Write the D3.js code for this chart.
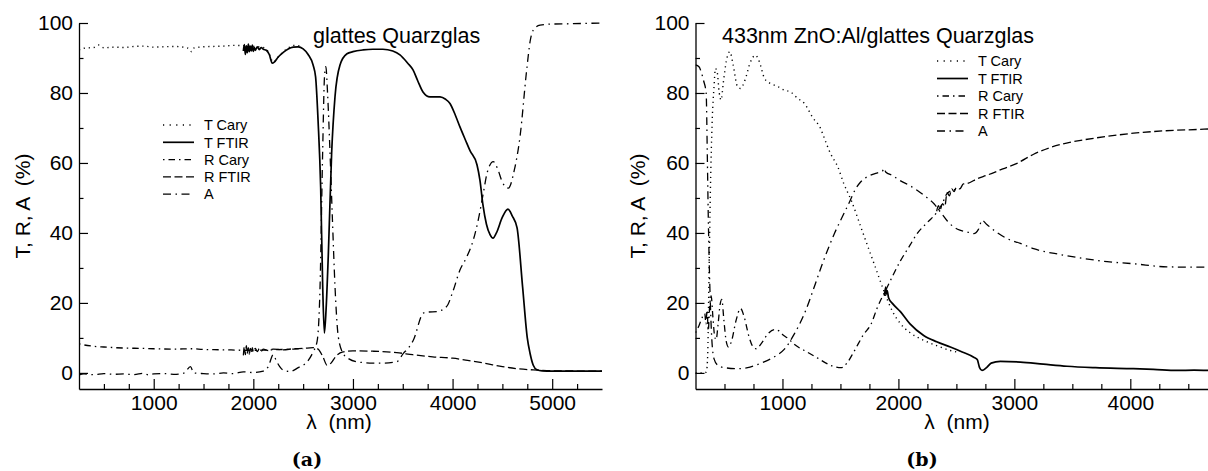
<!DOCTYPE html>
<html>
<head>
<meta charset="utf-8">
<script src="https://cdn.jsdelivr.net/npm/d3@7"></script>
<style>
body { margin: 0; background: #fff; }
svg text { font-family: "Liberation Sans", Arial, Helvetica, sans-serif; }
</style>
</head>
<body>
<script>
// ---- data: [wavelength nm, percent] ----
var seriesNames = ["T Cary", "T FTIR", "R Cary", "R FTIR", "A"];

var yMajor = [0, 20, 40, 60, 80, 100];
var yMinor = [10, 30, 50, 70, 90];

// (a) glattes Quarzglas
var aTitle = "glattes Quarzglas";
var aXMajor = [1000, 2000, 3000, 4000, 5000];
var aXMinor = [500, 750, 1250, 1500, 1750, 2250, 2500, 2750, 3250, 3500, 3750, 4250, 4500, 4750, 5250];

var aTCary = [[250, 92.3], [300, 92.8], [400, 93.0], [450, 93.7], [500, 92.9], [600, 93.1], [700, 93.0], [800, 93.3],
  [900, 93.4], [1000, 93.1], [1100, 93.2], [1200, 93.3], [1300, 93.1], [1360, 92.6], [1380, 91.8], [1400, 92.8],
  [1500, 93.2], [1600, 93.3], [1700, 93.4], [1800, 93.6], [1900, 93.5], [2000, 93.3], [2100, 93.0], [2150, 91.8],
  [2200, 88.8], [2250, 90.3], [2300, 91.8], [2350, 92.8], [2400, 93.6], [2450, 93.5], [2500, 93.2]];

var aTFTIR = [[1900, 92.0], [1910, 93.8], [1920, 91.0], [1930, 93.5], [1940, 91.5], [1950, 94.0], [1960, 91.8],
  [1970, 93.4], [1980, 92.0], [1990, 93.7], [2000, 91.9], [2010, 93.0], [2020, 92.2], [2040, 93.2], [2060, 92.4],
  [2080, 93.0], [2100, 92.5], [2130, 92.2], [2160, 91.0], [2190, 88.5], [2210, 88.8], [2250, 90.3], [2300, 91.6],
  [2350, 92.6], [2400, 93.1], [2450, 93.2], [2500, 92.6], [2550, 91.0], [2600, 88.0], [2625, 84.6], [2650, 72],
  [2676, 53], [2696, 25], [2713, 11.4], [2730, 18], [2753, 34], [2786, 62.8], [2820, 79], [2870, 88], [2940, 91.2],
  [3000, 91.8], [3100, 92.3], [3200, 92.5], [3300, 92.5], [3400, 92.0], [3472, 90.9], [3550, 88.5], [3603, 86.6],
  [3650, 83.5], [3703, 80.3], [3773, 78.9], [3874, 78.9], [3930, 78.2], [3974, 77], [4030, 73.5], [4074, 70.3],
  [4130, 66.5], [4175, 63.5], [4245, 59.5], [4275, 55], [4305, 48], [4340, 42.5], [4376, 39.5], [4406, 38.5],
  [4440, 40], [4500, 44.5], [4556, 46.8], [4600, 44.8], [4647, 41.5], [4703, 24.6], [4750, 10], [4777, 5.7],
  [4810, 2.2], [4847, 0.9], [4900, 0.6], [5000, 0.5], [5200, 0.5], [5500, 0.5]];

var aRCary = [[250, 8.3], [300, 8.0], [400, 7.6], [500, 7.4], [700, 7.1], [900, 7.0], [1000, 6.9], [1200, 6.8],
  [1380, 6.9], [1500, 6.7], [1700, 6.6], [1850, 6.5], [1950, 6.4], [2100, 6.5], [2200, 6.6], [2400, 6.8], [2500, 6.9]];

var aRFTIR = [[1900, 5.0], [1910, 7.5], [1920, 5.2], [1930, 7.8], [1940, 5.5], [1950, 7.2], [1960, 5.4], [1970, 7.0],
  [1980, 5.8], [1990, 7.2], [2000, 6.0], [2020, 7.0], [2040, 6.1], [2060, 6.9], [2080, 6.2], [2100, 6.8], [2150, 6.4],
  [2200, 6.8], [2300, 6.6], [2400, 6.9], [2500, 7.0], [2600, 7.2], [2650, 6.8], [2700, 4.5], [2740, 2.2], [2780, 2.8],
  [2830, 4.8], [2900, 6.0], [3000, 6.3], [3200, 6.2], [3440, 5.8], [3600, 5.2], [3800, 4.6], [4000, 4.2], [4150, 3.6],
  [4300, 2.9], [4500, 1.8], [4650, 1.2], [4850, 0.8], [5000, 0.6], [5500, 0.5]];

var aA = [[250, -0.6], [300, -0.3], [400, -0.5], [500, -0.2], [600, -0.4], [700, -0.3], [800, -0.5], [900, -0.1],
  [950, -0.6], [1000, -0.3], [1100, -0.2], [1200, -0.4], [1300, -0.1], [1370, 1.8], [1400, 0], [1500, -0.2],
  [1600, -0.3], [1700, 0], [1800, -0.2], [1900, 0.3], [2000, 0.1], [2100, 0.5], [2150, 1.8], [2200, 5.2],
  [2230, 3.5], [2265, 1.8], [2300, 0.8], [2368, 0.4], [2450, 1.5], [2550, 3.5], [2600, 6], [2640, 9], [2670, 25],
  [2695, 62], [2715, 85], [2728, 87.5], [2745, 80], [2770, 62.8], [2795, 43], [2820, 24.6], [2853, 10.3], [2903, 5.5],
  [2960, 4], [3037, 3.2], [3200, 2.8], [3305, 2.8], [3440, 3.2], [3506, 5.6], [3560, 7.2], [3607, 9.4], [3707, 17.1],
  [3760, 17.4], [3840, 17.5], [3941, 19], [4000, 23], [4074, 29.4], [4140, 33], [4208, 38], [4260, 44], [4308, 51.3],
  [4350, 57.5], [4409, 60.4], [4450, 58.5], [4500, 54.5], [4560, 52.8], [4620, 58], [4677, 67.5], [4744, 86.6],
  [4780, 95], [4811, 98], [4878, 99.4], [5000, 99.7], [5200, 99.8], [5500, 100]];

// (b) 433nm ZnO:Al/glattes Quarzglas
var bTitle = "433nm ZnO:Al/glattes Quarzglas";
var bXMajor = [1000, 2000, 3000, 4000];
var bXMinor = [500, 750, 1250, 1500, 1750, 2250, 2500, 2750, 3250, 3500, 3750, 4250, 4500];

var bTCary = [[250, 0], [330, 0], [345, 0.5], [355, 5], [365, 24.5], [379, 53], [394, 72], [410, 82], [422, 87],
  [437, 86], [455, 80], [471, 78], [490, 83], [515, 89], [546, 91.8], [575, 88], [610, 82], [638, 81.3], [680, 84],
  [720, 88.5], [767, 90.8], [800, 89], [845, 84.2], [897, 82.7], [950, 82], [1017, 80.8], [1069, 80.3], [1130, 78.5],
  [1190, 77], [1260, 73], [1328, 69.9], [1362, 67], [1414, 62.7], [1477, 58.9], [1530, 54], [1592, 49.4],
  [1678, 41.5], [1730, 36.7], [1800, 30.3], [1873, 23.6], [1950, 17.5], [2017, 14.1], [2100, 11.5], [2218, 9.3],
  [2330, 7.8], [2448, 6.4], [2500, 6.0]];

var bTFTIR = [[1880, 22], [1890, 24.5], [1895, 22.5], [1903, 23.5], [1915, 21.5], [1950, 19.8], [2017, 17.5],
  [2100, 14], [2218, 10.7], [2330, 8.9], [2448, 7.4], [2550, 6], [2649, 4.5], [2680, 3.8], [2700, 1.5], [2721, 0.7],
  [2760, 1.5], [2800, 2.8], [2879, 3.3], [3052, 3.1], [3250, 2.5], [3454, 1.9], [3700, 1.5], [4026, 1.2], [4200, 1.0],
  [4403, 0.7], [4550, 0.8], [4670, 0.7]];

var bRCary = [[250, 11.5], [280, 13.5], [310, 16], [330, 17], [340, 14], [350, 18], [360, 12], [372, 19], [385, 22],
  [400, 16], [415, 10.5], [428, 9.5], [445, 14], [462, 19.5], [477, 21], [495, 15], [515, 9], [534, 7.4], [560, 9],
  [600, 15], [638, 18.4], [670, 16], [710, 10.5], [745, 7.5], [773, 6.9], [820, 8.5], [870, 11], [931, 12.4],
  [970, 12], [1000, 11], [1050, 9.8], [1100, 8.2], [1200, 6.2], [1300, 4.3], [1420, 2.1], [1506, 1.5], [1560, 3],
  [1615, 6], [1700, 11], [1765, 14], [1816, 18.5], [1903, 24.5], [2017, 32], [2100, 36.5], [2161, 39.8], [2250, 43],
  [2334, 46], [2380, 48.5], [2420, 51.3], [2500, 52.5]];

var bRFTIR = [[2330, 46.2], [2345, 47.8], [2360, 46.6], [2380, 48.4], [2400, 47.6], [2420, 51.5],
  [2440, 50.6], [2460, 52.6], [2480, 51.8], [2500, 53], [2530, 52.6], [2560, 54], [2592, 54.1], [2680, 55.5],
  [2764, 56.5], [2900, 58.3], [3023, 59.9], [3166, 62.5], [3300, 64.3], [3450, 65.7], [3597, 66.6], [3800, 67.6],
  [4028, 68.5], [4300, 69.2], [4603, 69.6], [4670, 69.7]];

var bA = [[250, 88], [280, 87.5], [299, 86], [320, 83.5], [342, 79.9], [352, 62], [360, 45], [368, 32], [378, 20],
  [390, 10], [410, 4], [442, 2.2], [500, 1.5], [614, 1.2], [700, 1.5], [759, 2.1], [830, 3], [903, 4.1], [960, 5.2],
  [1017, 6.8], [1100, 11], [1190, 17], [1284, 25.5], [1342, 31], [1400, 36], [1450, 40], [1500, 43.5], [1586, 49.4],
  [1629, 52.5], [1672, 54.5], [1759, 56.5], [1820, 57.2], [1860, 57.6], [1880, 58.5], [1890, 57.4], [1950, 56.4],
  [2023, 54.8], [2100, 53.5], [2161, 52.2], [2230, 50.5], [2305, 48.4], [2362, 46], [2420, 43.5], [2477, 41.7],
  [2530, 40.8], [2592, 40.3], [2649, 39.8], [2690, 41], [2721, 43.6], [2760, 42.5], [2822, 40.8], [2937, 38.4],
  [3052, 37], [3166, 35.5], [3400, 33.8], [3597, 32.7], [3800, 31.8], [4028, 31.2], [4316, 30.3], [4670, 30.2]];

// ---- styles ----
var lineStyles = [
  { dash: "1.2,3.8", width: 1.4 },
  { dash: null, width: 1.7 },
  { dash: "1.5,4,6.5,4", width: 1.3 },
  { dash: "8,3.5", width: 1.3 },
  { dash: "8,4.5,1.5,4.5", width: 1.3 }
];

var width = 1208, height = 471;
var plotTop = 23, plotBottom = 389;

var svg = d3.select("body").append("svg")
  .attr("width", width)
  .attr("height", height);

function drawPanel(cfg) {
  var g = svg.append("g").attr("class", "panel_" + cfg.id);

  var x = d3.scaleLinear().domain(cfg.xDomain).range([cfg.left, cfg.right]);
  var y = d3.scaleLinear().domain([-4.6, 100]).range([plotBottom, plotTop]);

  g.append("clipPath").attr("id", "clip_" + cfg.id)
    .append("rect")
    .attr("x", cfg.left).attr("y", plotTop - 2)
    .attr("width", cfg.right - cfg.left).attr("height", plotBottom - plotTop + 2);

  // y axis, ticks pointing inward
  var yAx = g.append("g")
    .attr("transform", "translate(" + cfg.left + ",0)")
    .call(d3.axisLeft(y).tickValues(yMajor).tickSize(-9).tickSizeOuter(0).tickPadding(6));
  var yAxMinor = g.append("g")
    .attr("transform", "translate(" + cfg.left + ",0)")
    .call(d3.axisLeft(y).tickValues(yMinor).tickSize(-4.5).tickFormat(""));
  yAxMinor.select(".domain").remove();

  var xAx = g.append("g")
    .attr("transform", "translate(0," + plotBottom + ")")
    .call(d3.axisBottom(x).tickValues(cfg.xMajor).tickSize(-10).tickSizeOuter(0).tickPadding(6).tickFormat(d3.format("d")));
  var xAxMinor = g.append("g")
    .attr("transform", "translate(0," + plotBottom + ")")
    .call(d3.axisBottom(x).tickValues(cfg.xMinor).tickSize(-5).tickFormat(""));
  xAxMinor.select(".domain").remove();

  [yAx, yAxMinor, xAx, xAxMinor].forEach(function(a) {
    a.attr("font-size", 21).attr("font-family", "Liberation Sans, Arial, sans-serif");
    a.selectAll("line").attr("stroke", "#000").attr("stroke-width", 1.2);
    a.selectAll(".domain").attr("stroke", "#000").attr("stroke-width", 1.3);
    a.selectAll("text").attr("fill", "#000");
  });

  // curves
  var line = d3.line()
    .x(function(d) { return x(d[0]); })
    .y(function(d) { return y(d[1]); })
    .curve(d3.curveMonotoneX);

  var curves = g.append("g").attr("clip-path", "url(#clip_" + cfg.id + ")");
  cfg.series.forEach(function(s, i) {
    curves.append("path")
      .datum(s)
      .attr("d", line)
      .attr("fill", "none")
      .attr("stroke", "#000")
      .attr("stroke-width", lineStyles[i].width)
      .attr("stroke-dasharray", lineStyles[i].dash)
      .attr("stroke-linejoin", "round");
  });

  // title
  g.append("text")
    .attr("x", cfg.titleX).attr("y", 43)
    .attr("font-size", 21.5)
    .text(cfg.title);

  // legend
  var leg = g.append("g");
  seriesNames.forEach(function(name, i) {
    var cy = cfg.legY + i * cfg.legStep;
    leg.append("line")
      .attr("x1", cfg.legX).attr("x2", cfg.legX + 31)
      .attr("y1", cy).attr("y2", cy)
      .attr("stroke", "#000")
      .attr("stroke-width", lineStyles[i].width)
      .attr("stroke-dasharray", i === 0 ? "1.2,5.4" : lineStyles[i].dash);
    leg.append("text")
      .attr("x", cfg.legX + 41).attr("y", cy + 5.2)
      .attr("font-size", 14.5)
      .text(name);
  });

  // axis titles
  g.append("text")
    .attr("transform", "translate(" + cfg.yLabelX + ",206) rotate(-90)")
    .attr("text-anchor", "middle")
    .attr("font-size", 21)
    .style("white-space", "pre")
    .text("T, R, A  (%)");

  g.append("text")
    .attr("x", cfg.xLabelX).attr("y", 429)
    .attr("text-anchor", "middle")
    .attr("font-size", 21)
    .style("white-space", "pre")
    .text("\u03bb  (nm)");

  g.append("text")
    .attr("x", cfg.panelLabelX).attr("y", 466)
    .attr("text-anchor", "middle")
    .attr("font-size", 19)
    .attr("font-weight", "bold")
    .style("font-family", "DejaVu Serif, Liberation Serif, serif")
    .text(cfg.panelLabel);
}

drawPanel({
  id: "a", left: 79, right: 602, xDomain: [250, 5500],
  xMajor: aXMajor, xMinor: aXMinor,
  series: [aTCary, aTFTIR, aRCary, aRFTIR, aA],
  title: aTitle, titleX: 313,
  legX: 163, legY: 125, legStep: 17.3,
  yLabelX: 30, xLabelX: 339, panelLabelX: 307, panelLabel: "(a)"
});

drawPanel({
  id: "b", left: 695.5, right: 1208, xDomain: [250, 4670],
  xMajor: bXMajor, xMinor: bXMinor,
  series: [bTCary, bTFTIR, bRCary, bRFTIR, bA],
  title: bTitle, titleX: 722,
  legX: 937, legY: 61, legStep: 17.5,
  yLabelX: 645, xLabelX: 957, panelLabelX: 922, panelLabel: "(b)"
});
</script>
</body>
</html>
